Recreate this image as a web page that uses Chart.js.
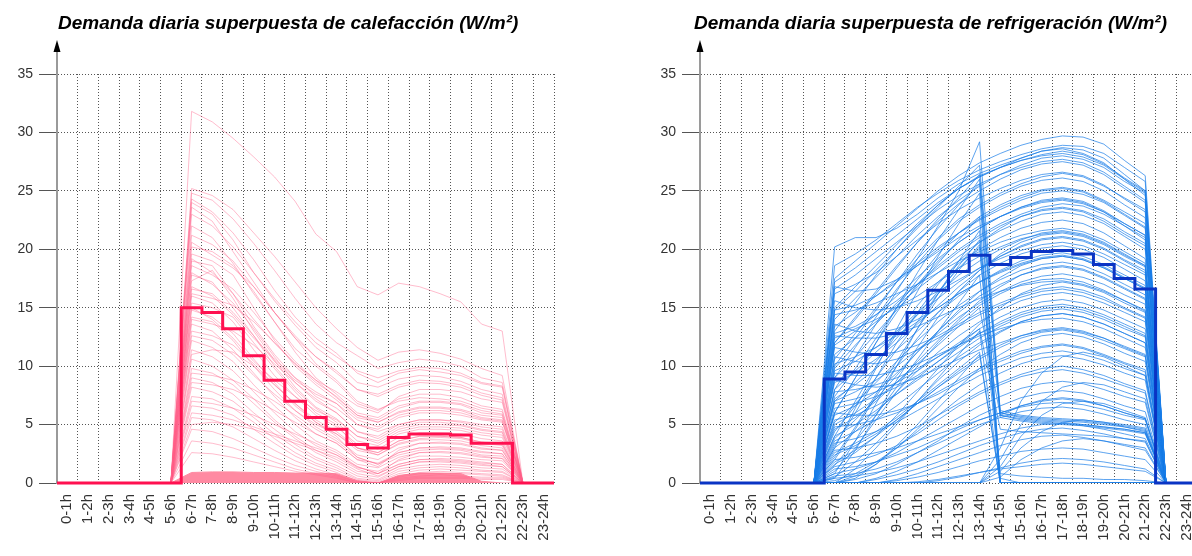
<!DOCTYPE html>
<html>
<head>
<meta charset="utf-8">
<script src="https://cdn.jsdelivr.net/npm/chart.js@4.4.1/dist/chart.umd.min.js"></script>
<style>
html, body { margin: 0; padding: 0; background: #fff; }
body { width: 1192px; height: 556px; overflow: hidden; position: relative; }
.panel { position: absolute; top: 0; width: 560px; height: 556px; }
#calef { left: 0; }
#refri { left: 643px; }
</style>
</head>
<body>
<div class="panel" id="calef"><canvas id="canvasCalefaccion" width="560" height="556"></canvas></div>
<div class="panel" id="refri"><canvas id="canvasRefrigeracion" width="560" height="556"></canvas></div>
<script>

var hourLabels = ["0-1h","1-2h","2-3h","3-4h","4-5h","5-6h","6-7h","7-8h","8-9h","9-10h","10-11h","11-12h",
	"12-13h","13-14h","14-15h","15-16h","16-17h","17-18h","18-19h","19-20h","20-21h","21-22h","22-23h","23-24h"];

var yTicks = [0, 5, 10, 15, 20, 25, 30, 35];

var titleCalefaccion = "Demanda diaria superpuesta de calefacción (W/m²)";
var titleRefrigeracion = "Demanda diaria superpuesta de refrigeración (W/m²)";

// hourly mean (bold step line)
var heatingMean = [0,0,0,0,0,0, 15.0,14.6,13.2,10.9,8.8,7.0,5.6,4.6,3.3,3.0,3.9,4.2,4.2,4.1,3.4,3.4, 0,0];
var coolingMean = [0,0,0,0,0,0, 8.9,9.5,11.0,12.8,14.6,16.5,18.1,19.5,18.7,19.3,19.8,19.9,19.6,18.7,17.5,16.6, 0,0];

// dense low band of heating days (solid pink area near the bottom)
var heatingBand = [0,0,0,0,0,0, 0.9,0.95,0.95,0.9,0.9,0.85,0.85,0.8,0.2,0,0.65,0.85,0.85,0.8,0.15,0, 0,0];

// superposed daily profiles, heating
var heatingDays = [
	[0,0,0,0,0,0, 31.8,30.9,29.5,27.9,26.2,24.1,21.3,19.8,16.8,16.1,17.1,16.8,16.2,15.5,13.6,13.0, 0,0],
	[0,0,0,0,0,0, 25.2,24.6,23.4,21.4,19.4,17.2,15.0,13.2,11.6,10.5,11.2,11.4,11.1,10.6,9.8,9.2, 0,0],
	[0,0,0,0,0,0, 24.8,24.2,22.6,20.5,18.2,15.8,13.6,12.0,10.9,9.8,10.3,10.6,10.4,10.0,9.0,8.6, 0,0],
	[0,0,0,0,0,0, 24.3,23.2,21.4,19.1,16.5,14.2,12.4,11.1,9.4,8.6,9.4,9.7,9.5,9.2,8.5,8.2, 0,0],
	[0,0,0,0,0,0, 24.0,23.0,20.8,18.0,15.6,13.5,11.6,10.3,8.6,8.2,8.9,9.2,9.1,8.7,8.0,7.6, 0,0],
	[0,0,0,0,0,0, 23.6,22.4,19.8,17.2,14.6,12.4,10.8,9.4,8.0,7.6,8.4,8.8,8.7,8.4,7.7,7.3, 0,0],
	[0,0,0,0,0,0, 23.0,22.0,20.2,18.0,15.8,13.8,12.0,10.8,9.6,9.0,9.6,9.9,9.8,9.4,8.6,8.3, 0,0],
	[0,0,0,0,0,0, 22.0,21.0,18.8,16.2,13.8,11.5,10.0,8.6,6.8,6.2,7.2,7.6,7.6,7.3,6.6,6.3, 0,0],
	[0,0,0,0,0,0, 21.2,20.4,19.0,16.8,14.6,12.6,10.8,9.6,8.0,7.4,8.2,8.6,8.5,8.2,7.5,7.1, 0,0],
	[0,0,0,0,0,0, 20.6,19.5,18.4,16.8,14.6,12.4,10.2,8.8,7.0,6.3,7.0,7.3,7.2,7.0,6.4,6.1, 0,0],
	[0,0,0,0,0,0, 20.2,19.8,18.6,16.4,13.8,11.2,9.0,7.6,6.0,5.6,6.6,7.0,7.0,6.8,6.2,5.9, 0,0],
	[0,0,0,0,0,0, 19.6,19.0,17.8,15.0,12.2,10.0,8.4,7.1,5.6,5.2,6.1,6.5,6.5,6.3,5.8,5.6, 0,0],
	[0,0,0,0,0,0, 19.2,18.0,16.2,14.0,12.0,10.2,8.8,7.8,6.6,6.0,7.4,8.0,8.0,7.8,7.2,6.9, 0,0],
	[0,0,0,0,0,0, 19.0,18.6,16.2,13.4,11.0,9.0,7.4,6.4,5.0,4.6,5.6,6.0,6.0,5.8,5.4,5.2, 0,0],
	[0,0,0,0,0,0, 18.6,17.8,16.6,14.6,12.4,10.4,8.8,7.3,5.8,5.4,6.4,6.9,6.9,6.7,6.0,5.8, 0,0],
	[0,0,0,0,0,0, 18.0,17.0,15.4,13.2,10.8,8.6,7.0,6.0,4.4,4.0,5.0,5.4,5.4,5.2,4.8,4.6, 0,0],
	[0,0,0,0,0,0, 17.8,17.2,15.0,12.6,10.4,8.8,7.6,6.8,5.4,4.8,5.8,6.2,6.2,6.0,5.5,5.3, 0,0],
	[0,0,0,0,0,0, 17.3,18.2,15.8,13.0,10.5,8.2,6.5,5.5,4.0,3.6,4.6,5.0,5.0,4.9,4.5,4.3, 0,0],
	[0,0,0,0,0,0, 16.8,16.0,14.4,12.4,10.6,9.0,7.8,6.8,5.0,4.4,5.0,5.4,5.4,5.3,5.0,4.8, 0,0],
	[0,0,0,0,0,0, 16.6,16.2,14.6,12.6,10.0,8.0,6.4,5.2,3.6,3.2,4.2,4.6,4.6,4.5,4.1,3.9, 0,0],
	[0,0,0,0,0,0, 16.2,15.8,15.2,13.8,12.0,10.2,8.6,7.4,5.8,5.2,6.0,6.4,6.4,6.2,5.6,5.4, 0,0],
	[0,0,0,0,0,0, 16.0,15.4,13.8,11.4,9.2,7.4,5.8,4.8,3.3,2.9,3.9,4.3,4.3,4.2,3.8,3.6, 0,0],
	[0,0,0,0,0,0, 15.4,15.0,14.2,12.0,9.8,7.8,6.0,5.0,3.0,2.6,3.6,4.0,4.0,3.9,3.5,3.4, 0,0],
	[0,0,0,0,0,0, 15.0,14.0,12.4,10.4,8.8,7.4,6.2,5.4,4.0,3.4,4.4,4.8,4.8,4.7,4.3,4.1, 0,0],
	[0,0,0,0,0,0, 14.8,14.2,12.8,10.6,8.6,6.6,5.2,4.2,2.8,2.4,3.3,3.7,3.7,3.6,3.2,3.0, 0,0],
	[0,0,0,0,0,0, 14.2,13.8,12.2,10.0,8.0,6.2,4.8,3.8,2.4,2.0,3.0,3.4,3.4,3.3,2.9,2.8, 0,0],
	[0,0,0,0,0,0, 14.0,13.6,13.0,11.8,10.2,8.6,7.2,6.0,4.4,3.8,4.8,5.2,5.2,5.0,4.6,4.4, 0,0],
	[0,0,0,0,0,0, 13.6,13.0,11.4,9.4,7.4,5.6,4.2,3.4,2.0,1.7,2.6,3.0,3.0,2.9,2.6,2.5, 0,0],
	[0,0,0,0,0,0, 13.0,12.6,11.8,10.2,8.4,6.8,5.2,4.0,2.2,1.6,2.4,2.8,2.9,2.8,2.4,2.3, 0,0],
	[0,0,0,0,0,0, 12.6,12.2,11.0,9.2,7.6,6.2,5.0,4.2,3.0,2.6,3.6,4.0,4.0,3.9,3.5,3.3, 0,0],
	[0,0,0,0,0,0, 12.2,11.6,10.4,8.4,6.6,5.0,3.6,2.8,1.6,1.3,2.2,2.6,2.6,2.5,2.2,2.1, 0,0],
	[0,0,0,0,0,0, 11.4,10.8,9.6,7.8,6.0,4.4,3.2,2.4,1.3,1.0,1.9,2.3,2.3,2.2,2.0,1.9, 0,0],
	[0,0,0,0,0,0, 11.0,11.4,11.2,10.0,8.4,6.8,5.4,4.4,3.0,2.4,3.4,3.8,3.9,3.8,3.4,3.2, 0,0],
	[0,0,0,0,0,0, 10.6,10.0,8.8,7.2,5.4,4.0,2.8,2.0,1.0,0.8,1.6,2.0,2.0,1.9,1.7,1.6, 0,0],
	[0,0,0,0,0,0, 9.8,9.4,8.4,6.8,5.2,3.8,2.6,1.8,0.8,0.5,1.4,1.8,1.8,1.7,1.5,1.4, 0,0],
	[0,0,0,0,0,0, 9.4,9.2,8.8,8.0,7.0,5.8,4.6,3.6,2.2,1.6,2.6,3.0,3.1,3.0,2.7,2.5, 0,0],
	[0,0,0,0,0,0, 9.0,8.6,7.6,6.0,4.6,3.3,2.2,1.5,0.6,0.3,1.2,1.5,1.6,1.5,1.3,1.2, 0,0],
	[0,0,0,0,0,0, 8.6,8.4,8.0,7.2,6.2,5.2,4.2,3.4,2.0,1.4,2.8,3.4,3.5,3.4,3.0,2.8, 0,0],
	[0,0,0,0,0,0, 8.2,7.8,7.0,5.6,4.2,3.0,2.0,1.3,0.4,0.2,1.0,1.3,1.4,1.3,1.1,1.0, 0,0],
	[0,0,0,0,0,0, 7.4,7.2,6.4,5.2,3.8,2.6,1.7,1.1,0.3,0.1,0.8,1.1,1.2,1.1,1.0,0.9, 0,0],
	[0,0,0,0,0,0, 7.0,6.8,6.4,5.8,5.0,4.2,3.4,2.6,1.4,0.8,2.0,2.6,2.7,2.6,2.3,2.1, 0,0],
	[0,0,0,0,0,0, 6.6,6.4,5.8,4.6,3.4,2.3,1.5,0.9,0.2,0,0.6,0.9,1.0,0.9,0.8,0.7, 0,0],
	[0,0,0,0,0,0, 6.0,5.8,5.4,4.8,4.2,3.6,3.0,2.4,1.4,0.8,1.6,2.0,2.1,2.0,1.8,1.6, 0,0],
	[0,0,0,0,0,0, 5.6,5.4,4.8,3.8,2.8,1.9,1.2,0.7,0.1,0,0.5,0.8,0.8,0.8,0.7,0.6, 0,0],
	[0,0,0,0,0,0, 5.0,5.2,5.0,4.6,4.0,3.4,2.8,2.2,1.2,0.6,1.4,1.8,1.9,1.8,1.6,1.4, 0,0],
	[0,0,0,0,0,0, 4.6,4.4,3.8,3.0,2.2,1.5,1.0,0.6,0.1,0,0.4,0.6,0.7,0.6,0.5,0.5, 0,0],
	[0,0,0,0,0,0, 3.6,3.4,3.0,2.4,1.8,1.2,0.8,0.5,0,0,0.3,0.5,0.5,0.5,0.4,0.4, 0,0],
	[0,0,0,0,0,0, 2.6,2.5,2.2,1.8,1.4,1.0,0.7,0.4,0,0,0.2,0.4,0.4,0.4,0.3,0.3, 0,0]
];

// superposed daily profiles, cooling
var coolingDays = [
	[0,0,0,0,0,0, 17.5,19.0,20.5,22.0,23.5,25.0,26.3,27.4,28.2,28.9,29.4,29.7,29.6,29.0,27.6,26.3, 0,0],
	[0,0,0,0,0,0, 20.2,21.0,21.0,21.8,23.0,24.4,25.6,26.5,27.2,27.8,28.4,28.7,28.5,27.8,26.4,25.0, 0,0],
	[0,0,0,0,0,0, 18.6,19.6,20.8,22.2,23.6,24.8,25.9,26.8,27.5,28.1,28.6,28.9,28.8,28.2,27.0,25.8, 0,0],
	[0,0,0,0,0,0, 17.2,18.4,19.8,21.2,22.6,24.0,25.2,26.2,27.0,27.6,28.1,28.4,28.1,27.3,26.1,25.0, 0,0],
	[0,0,0,0,0,0, 15.0,16.8,18.6,20.4,22.2,23.8,25.2,26.2,27.0,27.8,28.4,28.6,28.2,27.4,26.0,24.6, 0,0],
	[0,0,0,0,0,0, 13.0,15.4,17.8,20.0,22.0,23.8,25.2,26.3,27.0,27.6,28.0,28.2,27.9,27.2,26.0,24.9, 0,0],
	[0,0,0,0,0,0, 14.0,15.8,17.6,19.4,21.2,22.8,24.2,25.4,26.4,27.2,27.8,28.0,27.7,27.0,25.8,24.8, 0,0],
	[0,0,0,0,0,0, 16.6,17.8,19.2,20.6,22.0,23.4,24.6,25.6,26.4,27.0,27.5,27.7,27.4,26.6,25.4,24.2, 0,0],
	[0,0,0,0,0,0, 12.0,14.2,16.4,18.6,20.6,22.4,23.9,25.0,26.0,26.8,27.3,27.5,27.2,26.4,25.2,24.0, 0,0],
	[0,0,0,0,0,0, 16.2,17.0,18.0,19.4,20.8,22.2,23.4,24.4,25.2,25.9,26.4,26.6,26.3,25.5,24.3,23.2, 0,0],
	[0,0,0,0,0,0, 10.6,12.8,15.0,17.2,19.2,21.0,22.6,23.8,24.8,25.6,26.2,26.5,26.2,25.4,24.4,23.4, 0,0],
	[0,0,0,0,0,0, 9.0,11.6,14.2,16.6,18.8,20.8,22.4,23.6,24.6,25.4,25.9,26.1,25.8,25.0,23.8,22.7, 0,0],
	[0,0,0,0,0,0, 7.4,9.8,12.4,15.0,17.4,19.6,21.4,22.8,23.8,24.6,25.1,25.3,25.0,24.2,23.2,22.2, 0,0],
	[0,0,0,0,0,0, 14.8,15.2,16.0,17.2,18.6,20.0,21.4,22.6,23.6,24.4,25.0,25.2,24.9,24.1,23.0,21.9, 0,0],
	[0,0,0,0,0,0, 13.4,14.6,16.0,17.4,18.8,20.2,21.4,22.5,23.4,24.2,24.8,25.0,24.7,24.0,22.9,21.8, 0,0],
	[0,0,0,0,0,0, 11.8,13.0,14.4,16.0,17.6,19.2,20.6,21.8,22.8,23.6,24.2,24.4,24.1,23.3,22.2,21.2, 0,0],
	[0,0,0,0,0,0, 6.0,9.0,12.0,14.6,17.0,19.0,20.6,21.8,22.8,23.6,24.1,24.3,24.0,23.2,22.0,20.8, 0,0],
	[0,0,0,0,0,0, 16.8,16.4,16.6,17.4,18.6,19.8,21.0,22.0,22.8,23.5,24.0,24.2,23.9,23.2,22.2,21.2, 0,0],
	[0,0,0,0,0,0, 9.8,11.8,13.6,15.4,17.0,18.6,20.0,21.2,22.2,23.0,23.6,23.9,23.7,23.0,22.0,21.0, 0,0],
	[0,0,0,0,0,0, 3.2,6.0,9.0,12.0,14.6,17.0,19.0,20.6,21.8,22.8,23.4,23.6,23.3,22.6,21.5,20.5, 0,0],
	[0,0,0,0,0,0, 12.8,13.4,14.4,15.6,17.0,18.4,19.8,21.0,22.0,22.8,23.3,23.5,23.2,22.4,21.3,20.3, 0,0],
	[0,0,0,0,0,0, 11.0,12.4,13.8,15.2,16.6,18.0,19.4,20.6,21.6,22.4,23.0,23.2,22.9,22.2,21.1,20.0, 0,0],
	[0,0,0,0,0,0, 4.0,7.0,10.0,12.8,15.2,17.2,18.8,20.0,21.0,21.8,22.3,22.5,22.2,21.4,20.3,19.2, 0,0],
	[0,0,0,0,0,0, 14.4,14.8,15.4,16.2,17.0,18.0,19.0,19.8,20.6,21.2,21.6,21.8,21.5,20.8,19.8,18.8, 0,0],
	[0,0,0,0,0,0, 9.6,10.4,11.6,13.0,14.6,16.2,17.8,19.0,20.0,20.8,21.4,21.6,21.3,20.6,19.6,18.6, 0,0],
	[0,0,0,0,0,0, 12.4,13.2,14.0,15.0,16.0,17.2,18.4,19.4,20.2,20.9,21.3,21.5,21.2,20.5,19.5,18.6, 0,0],
	[0,0,0,0,0,0, 0.4,2.8,5.8,8.8,11.6,14.2,16.4,18.2,19.6,20.6,21.2,21.4,21.1,20.4,19.4,18.5, 0,0],
	[0,0,0,0,0,0, 8.6,9.4,10.6,12.0,13.6,15.2,16.8,18.2,19.4,20.3,20.9,21.1,20.8,20.1,19.1,18.2, 0,0],
	[0,0,0,0,0,0, 8.0,9.6,11.2,12.8,14.4,15.8,17.2,18.4,19.4,20.2,20.8,21.0,20.7,20.0,19.0,18.0, 0,0],
	[0,0,0,0,0,0, 15.6,15.0,14.8,15.0,15.6,16.4,17.4,18.4,19.2,19.9,20.4,20.6,20.3,19.6,18.7,17.8, 0,0],
	[0,0,0,0,0,0, 2.0,4.6,7.4,10.0,12.4,14.6,16.4,17.8,18.8,19.6,20.1,20.3,20.0,19.3,18.3,17.3, 0,0],
	[0,0,0,0,0,0, 7.2,8.4,9.8,11.4,13.0,14.6,16.0,17.2,18.2,19.0,19.5,19.7,19.4,18.7,17.8,16.9, 0,0],
	[0,0,0,0,0,0, 10.2,10.8,11.6,12.6,13.8,15.0,16.2,17.2,18.1,18.8,19.3,19.5,19.2,18.5,17.6,16.7, 0,0],
	[0,0,0,0,0,0, 13.6,13.0,12.8,13.2,14.0,15.0,16.2,17.2,18.0,18.7,19.2,19.4,19.1,18.4,17.5,16.6, 0,0],
	[0,0,0,0,0,0, 5.8,6.6,7.8,9.4,11.2,13.0,14.8,16.4,17.6,18.6,19.2,19.4,19.1,18.4,17.5,16.6, 0,0],
	[0,0,0,0,0,0, 5.2,6.8,8.6,10.4,12.2,13.8,15.2,16.4,17.4,18.2,18.7,18.9,18.6,17.9,17.0,16.1, 0,0],
	[0,0,0,0,0,0, 4.6,5.6,7.0,8.6,10.4,12.2,14.0,15.6,16.8,17.8,18.4,18.6,18.3,17.6,16.7,15.8, 0,0],
	[0,0,0,0,0,0, 3.8,5.4,7.2,9.2,11.2,13.0,14.6,16.0,17.0,17.8,18.3,18.5,18.2,17.5,16.6,15.7, 0,0],
	[0,0,0,0,0,0, 7.0,7.8,8.8,10.0,11.4,12.8,14.2,15.4,16.4,17.2,17.7,17.9,17.6,17.0,16.1,15.3, 0,0],
	[0,0,0,0,0,0, 1.0,3.0,5.4,7.8,10.0,12.0,13.8,15.2,16.2,17.0,17.4,17.5,17.2,16.5,15.6,14.7, 0,0],
	[0,0,0,0,0,0, 12.6,12.4,12.4,12.8,13.4,14.2,15.0,15.8,16.4,16.9,17.2,17.3,17.0,16.4,15.6,14.8, 0,0],
	[0,0,0,0,0,0, 1.6,2.6,4.0,5.8,7.8,9.8,11.8,13.6,15.0,16.2,16.9,17.2,16.9,16.3,15.4,14.6, 0,0],
	[0,0,0,0,0,0, 11.6,11.2,11.0,11.2,11.8,12.6,13.6,14.6,15.4,16.1,16.6,16.8,16.5,15.9,15.0,14.2, 0,0],
	[0,0,0,0,0,0, 10.8,10.4,10.2,10.6,11.4,12.4,13.4,14.4,15.2,15.9,16.4,16.6,16.3,15.7,14.9,14.1, 0,0],
	[0,0,0,0,0,0, 3.0,4.4,6.0,7.8,9.6,11.2,12.6,13.8,14.8,15.6,16.1,16.3,16.0,15.4,14.6,13.8, 0,0],
	[0,0,0,0,0,0, 6.8,7.2,7.8,8.6,9.6,10.8,12.0,13.2,14.2,15.0,15.5,15.7,15.4,14.8,14.0,13.2, 0,0],
	[0,0,0,0,0,0, 6.4,6.8,7.4,8.2,9.2,10.4,11.6,12.8,13.8,14.6,15.1,15.3,15.0,14.4,13.6,12.8, 0,0],
	[0,0,0,0,0,0, 7.8,8.0,8.4,9.0,9.8,10.8,11.8,12.8,13.6,14.4,14.9,15.1,14.8,14.2,13.4,12.6, 0,0],
	[0,0,0,0,0,0, 5.4,5.8,6.6,7.6,8.8,10.0,11.2,12.4,13.4,14.2,14.7,14.9,14.6,14.0,13.2,12.5, 0,0],
	[0,0,0,0,0,0, 0.5,1.8,3.4,5.2,7.0,8.8,10.4,11.8,12.9,13.8,14.3,14.5,14.2,13.6,12.8,12.0, 0,0],
	[0,0,0,0,0,0, 3.6,4.4,5.4,6.6,8.0,9.4,10.8,12.0,13.0,13.8,14.3,14.5,14.2,13.6,12.8,12.0, 0,0],
	[0,0,0,0,0,0, 9.4,9.2,9.2,9.6,10.2,11.0,11.8,12.6,13.2,13.7,14.0,14.1,13.8,13.2,12.4,11.6, 0,0],
	[0,0,0,0,0,0, 2.4,3.2,4.2,5.4,6.8,8.2,9.6,10.8,11.8,12.6,13.1,13.3,13.0,12.4,11.6,10.9, 0,0],
	[0,0,0,0,0,0, 8.8,8.4,8.2,8.4,9.0,9.8,10.6,11.4,12.0,12.6,13.0,13.2,12.9,12.4,11.7,11.0, 0,0],
	[0,0,0,0,0,0, 1.8,2.8,4.0,5.4,6.8,8.2,9.4,10.6,11.6,12.4,12.9,13.1,12.8,12.2,11.5,10.8, 0,0],
	[0,0,0,0,0,0, 0,0.6,1.6,3.0,4.6,6.4,8.2,9.8,11.0,12.0,12.6,12.8,12.5,11.9,11.1,10.4, 0,0],
	[0,0,0,0,0,0, 4.8,5.0,5.4,6.0,6.8,7.8,8.8,9.8,10.6,11.3,11.7,11.9,11.6,11.0,10.3,9.7, 0,0],
	[0,0,0,0,0,0, 6.0,5.8,5.8,6.2,6.8,7.6,8.6,9.6,10.4,11.1,11.6,11.8,11.5,10.9,10.2,9.5, 0,0],
	[0,0,0,0,0,0, 3.4,3.8,4.4,5.2,6.2,7.2,8.2,9.2,10.0,10.7,11.1,11.3,11.0,10.5,9.8,9.2, 0,0],
	[0,0,0,0,0,0, 0.2,0.8,1.8,3.0,4.4,5.8,7.2,8.4,9.4,10.2,10.7,10.9,10.6,10.1,9.4,8.8, 0,0],
	[0,0,0,0,0,0, 2.8,3.0,3.4,4.0,4.8,5.8,6.8,7.8,8.6,9.3,9.8,10.0,9.7,9.2,8.5,7.9, 0,0],
	[0,0,0,0,0,0, 1.4,1.8,2.4,3.2,4.2,5.4,6.6,7.6,8.4,9.1,9.5,9.7,9.4,8.9,8.3,7.7, 0,0],
	[0,0,0,0,0,0, 0.8,1.2,1.8,2.6,3.6,4.6,5.6,6.6,7.4,8.1,8.5,8.7,8.5,8.0,7.4,6.9, 0,0],
	[0,0,0,0,0,0, 0,0.3,0.8,1.6,2.6,3.6,4.8,5.8,6.6,7.3,7.7,7.9,7.7,7.2,6.6,6.1, 0,0],
	[0,0,0,0,0,0, 0,0,0.4,1.0,1.8,2.8,3.8,4.8,5.8,6.6,7.1,7.3,7.1,6.6,6.0,5.5, 0,0],
	[0,0,0,0,0,0, 1.2,1.4,1.8,2.4,3.0,3.8,4.6,5.4,6.0,6.6,7.0,7.2,7.0,6.6,6.0,5.5, 0,0],
	[0,0,0,0,0,0, 2.0,2.2,2.6,3.0,3.6,4.2,4.8,5.4,6.0,6.5,6.8,6.9,6.7,6.3,5.8,5.4, 0,0],
	[0,0,0,0,0,0, 0.6,0.8,1.2,1.8,2.6,3.4,4.2,5.0,5.6,6.1,6.4,6.5,6.3,5.9,5.4,5.0, 0,0],
	[0,0,0,0,0,0, 0.4,0.6,0.9,1.3,1.8,2.4,3.0,3.6,4.2,4.7,5.0,5.1,4.9,4.6,4.2,3.8, 0,0],
	[0,0,0,0,0,0, 0,0,0.3,0.7,1.2,1.8,2.5,3.2,3.8,4.3,4.6,4.7,4.5,4.2,3.8,3.5, 0,0],
	[0,0,0,0,0,0, 0,0,0,0.3,0.8,1.4,2.0,2.6,3.2,3.7,4.0,4.1,3.9,3.6,3.2,2.8, 0,0],
	[0,0,0,0,0,0, 0,0,0,0.2,0.5,0.9,1.4,1.9,2.3,2.7,2.9,3.0,2.9,2.6,2.3,2.0, 0,0],
	[0,0,0,0,0,0, 0,0,0,0,0,0.2,0.5,0.9,1.3,1.7,2.0,2.1,2.0,1.8,1.5,1.2, 0,0],
	[0,0,0,0,0,0, 0,0,0,0,0.1,0.3,0.6,0.9,1.2,1.4,1.6,1.7,1.6,1.4,1.2,1.0, 0,0],
	[0,0,0,0,0,0, 8.0,10.8,13.6,16.4,19.2,22.0,25.0,29.2,6.0,5.6,5.4,5.3,5.2,5.0,4.8,4.5, 0,0],
	[0,0,0,0,0,0, 14.8,16.4,18.2,20.0,21.8,23.6,25.4,27.2,5.6,5.3,5.1,5.0,4.9,4.7,4.5,4.2, 0,0],
	[0,0,0,0,0,0, 12.0,14.0,16.2,18.4,20.6,22.6,24.4,26.4,6.2,5.8,5.6,5.5,5.4,5.2,5.0,4.7, 0,0],
	[0,0,0,0,0,0, 10.0,12.4,14.8,17.2,19.6,21.8,23.8,25.6,5.8,5.4,5.2,5.1,5.0,4.8,4.6,4.3, 0,0],
	[0,0,0,0,0,0, 6.0,9.0,12.0,15.0,18.0,20.8,23.4,26.0,0,0,0,0,0,0,0,0, 0,0],
	[0,0,0,0,0,0, 3.0,6.4,9.8,13.2,16.4,19.4,22.2,24.8,0.4,0,0,0,0,0,0,0, 0,0],
	[0,0,0,0,0,0, 9.0,10.8,12.8,14.8,16.8,18.8,20.8,22.8,0,0,0,0,0,0,0,0, 0,0],
	[0,0,0,0,0,0, 0.8,3.6,6.8,10.0,13.2,16.2,19.0,21.6,0,0,0,0,0,0,0,0, 0,0],
	[0,0,0,0,0,0, 4.4,6.6,9.0,11.4,13.8,16.2,18.6,20.8,6.0,5.7,5.5,5.4,5.3,5.1,4.9,4.6, 0,0],
	[0,0,0,0,0,0, 2.2,4.8,7.6,10.4,13.2,15.8,18.2,20.4,0,0,0,0,0,0,0,0, 0,0],
	[0,0,0,0,0,0, 7.0,8.6,10.4,12.4,14.4,16.4,18.4,20.2,0.8,0.6,0.5,0.4,0.4,0.3,0.3,0.2, 0,0],
	[0,0,0,0,0,0, 1.5,3.6,5.8,8.2,10.6,13.0,15.4,17.8,0,0,0,0,0,0,0,0, 0,0],
	[0,0,0,0,0,0, 5.0,6.0,7.2,8.6,10.2,11.8,13.4,15.0,5.8,5.5,5.3,5.2,5.0,4.8,4.6,4.3, 0,0],
	[0,0,0,0,0,0, 4.0,5.0,6.2,7.6,9.0,10.4,11.8,13.2,4.6,4.4,4.3,4.2,4.1,4.0,3.8,3.6, 0,0],
	[0,0,0,0,0,0, 0,1.2,3.0,5.0,7.0,9.0,11.0,13.0,0,0,0,0,0,0,0,0, 0,0],
	[0,0,0,0,0,0, 2.6,3.4,4.4,5.6,7.0,8.4,9.8,11.2,0,0,0,0,0,0,0,0, 0,0],
	[0,0,0,0,0,0, 0,0.4,1.6,3.2,5.0,7.0,9.0,11.0,0,0,0,0,0,0,0,0, 0,0],
	[0,0,0,0,0,0, 0,0,0,0,0,0,0,0,3.0,7.0,9.4,10.8,11.2,10.8,10.0,9.2, 0,0],
	[0,0,0,0,0,0, 0,0,0,0,0,0,0,0,2.0,5.0,7.0,8.2,8.6,8.4,7.8,7.2, 0,0],
	[0,0,0,0,0,0, 0,0,0,0,0,0,0,0,1.4,4.0,5.8,6.8,7.0,6.8,6.2,5.6, 0,0],
	[0,0,0,0,0,0, 0,0,0,0,0,0,0,0,1.0,3.0,4.4,5.2,5.4,5.2,4.8,4.4, 0,0],
	[0,0,0,0,0,0, 0,0,0,0,0,0,0,0,0.5,2.0,3.0,3.6,3.8,3.6,3.3,3.0, 0,0]
];


Chart.defaults.font.family = '"Liberation Sans", Arial, sans-serif';
Chart.defaults.color = '#333';

// y axis arrow and panel title, placed from the chart area
var panelDeco = {
	id: 'panelDeco',
	afterDraw: function(chart, args, opts){
		var ctx = chart.ctx;
		var area = chart.chartArea;
		var ax = area.left;
		ctx.save();
		ctx.strokeStyle = '#9a9a9a';
		ctx.lineWidth = 2;
		ctx.beginPath();
		ctx.moveTo(ax, area.top);
		ctx.lineTo(ax, area.top - 26);
		ctx.stroke();
		ctx.fillStyle = '#000';
		ctx.beginPath();
		ctx.moveTo(ax, area.top - 34);
		ctx.lineTo(ax - 3.5, area.top - 22);
		ctx.lineTo(ax + 3.5, area.top - 22);
		ctx.closePath();
		ctx.fill();
		ctx.font = 'italic bold 19px "Liberation Sans", Arial, sans-serif';
		ctx.textBaseline = 'alphabetic';
		ctx.fillText(opts.text, area.left + opts.dx, 29);
		ctx.restore();
	}
};

function to_points(values, shift){
	return values.map(function(v, i){ return {x: i + shift, y: v}; });
}

function build_datasets(mean, days, meanColor, dayColor, band, bandColor){
	var sets = [];
	var steps = to_points(mean, 0);
	steps.push({x: mean.length, y: mean[mean.length - 1]});
	sets.push({
		data: steps,
		stepped: 'before',
		borderColor: meanColor,
		borderWidth: 3,
		pointRadius: 0,
		fill: false,
		clip: false
	});
	days.forEach(function(day){
		sets.push({
			data: to_points(day, 0.5),
			borderColor: dayColor,
			borderWidth: 1,
			pointRadius: 0,
			fill: false
		});
	});
	if (band){
		sets.push({
			data: to_points(band, 0.5),
			borderColor: bandColor,
			backgroundColor: bandColor,
			borderWidth: 1,
			pointRadius: 0,
			fill: 'origin'
		});
	}
	return sets;
}

function init_chart_demanda(canvasId, title, titleShift, datasets){

	var xTicks = [];
	hourLabels.forEach(function(l, i){
		xTicks.push({value: i});
		xTicks.push({value: i + 0.5});
	});
	xTicks.push({value: hourLabels.length});

	var settings = {
		type: 'line',
		data: { datasets: datasets },
		options: {
			responsive: false,
			animation: false,
			events: [],
			layout: { padding: { top: 74, right: 6, left: 0, bottom: 0 } },
			plugins: {
				legend: { display: false },
				tooltip: { enabled: false },
				panelDeco: { text: title, dx: titleShift }
			},
			elements: { line: { tension: 0 } },
			scales: {
				x: {
					type: 'linear',
					min: 0,
					max: hourLabels.length,
					afterBuildTicks: function(axis){ axis.ticks = xTicks.slice(); },
					afterFit: function(s){
						s.height = 73;
						s.paddingLeft = 0;
						s.paddingRight = 0;
					},
					ticks: {
						autoSkip: false,
						minRotation: 90,
						maxRotation: 90,
						padding: 11,
						color: '#333',
						font: { size: 15 },
						callback: function(value){
							return (value % 1) ? hourLabels[value - 0.5] : '';
						}
					},
					grid: {
						drawTicks: false,
						lineWidth: 1,
						color: function(c){
							return (c.tick && c.tick.value % 1 === 0) ? '#555' : 'rgba(0,0,0,0)';
						}
					},
					border: { display: false, dash: [1, 2] }
				},
				y: {
					min: 0,
					max: 35,
					afterBuildTicks: function(axis){
						axis.ticks = yTicks.map(function(v){ return {value: v}; });
					},
					afterFit: function(s){ s.width = 57; },
					ticks: { padding: 6, color: '#333', font: { size: 14 } },
					grid: {
						color: '#555',
						lineWidth: 1,
						tickLength: 18,
						tickColor: '#555',
						tickBorderDash: []
					},
					border: { display: true, color: '#9a9a9a', width: 2, dash: [1, 2] }
				}
			}
		},
		plugins: [panelDeco]
	};

	return new Chart(document.getElementById(canvasId), settings);
}

init_chart_demanda('canvasCalefaccion', titleCalefaccion, 1,
	build_datasets(heatingMean, heatingDays, '#ff1050', 'rgba(255, 95, 135, 0.42)', heatingBand, '#ff8aa2'));

init_chart_demanda('canvasRefrigeracion', titleRefrigeracion, -6,
	build_datasets(coolingMean, coolingDays, '#0a34c4', 'rgba(25, 125, 232, 0.7)', null, null));

</script>
</body>
</html>
